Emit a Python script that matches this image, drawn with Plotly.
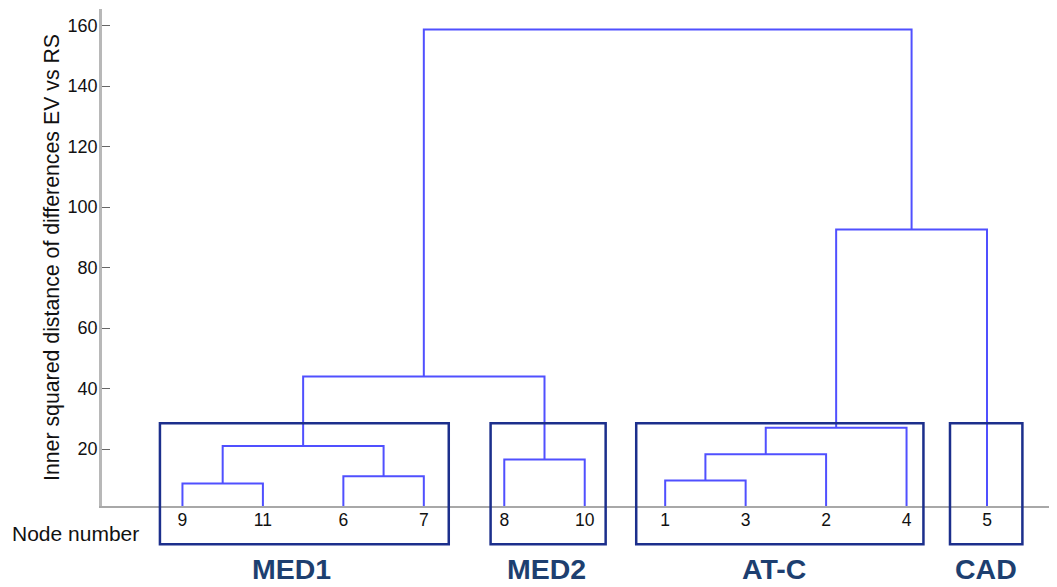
import plotly.graph_objects as go

# ---- data ----
leaf_labels = ["9", "11", "6", "7", "8", "10", "1", "3", "2", "4", "5"]
# merges: (left node, right node, height); nodes are leaf labels or earlier merge ids "m0".."m9"
merge_left = ["9", "6", "m0", "8", "m2", "1", "m5", "m6", "m7", "m4"]
merge_right = ["11", "7", "m1", "10", "m3", "3", "2", "4", "5", "m8"]
merge_height = [8.6, 11.0, 21.0, 16.5, 44.0, 9.6, 18.3, 27.0, 92.6, 158.7]

group_names = ["MED1", "MED2", "AT-C", "CAD"]
group_first_leaf = ["9", "8", "1", "5"]
group_last_leaf = ["7", "10", "4", "5"]
group_pad_left = [0.28, 0.17, 0.36, 0.46]
group_pad_right = [0.31, 0.26, 0.21, 0.44]
group_label_x = [2.36, 5.52, 8.35, 10.99]

y_ticks = [20, 40, 60, 80, 100, 120, 140, 160]

# ---- build dendrogram coordinates ----
pos = {lab: i + 1 for i, lab in enumerate(leaf_labels)}
hgt = {lab: 0.0 for lab in leaf_labels}
xs, ys = [], []
for k, (a, b, h) in enumerate(zip(merge_left, merge_right, merge_height)):
    xa, xb = pos[a], pos[b]
    xs += [xa, xa, xb, xb, None]
    ys += [hgt[a], h, h, hgt[b], None]
    pos[f"m{k}"] = (xa + xb) / 2
    hgt[f"m{k}"] = h

FONT = "Liberation Sans, Arial, sans-serif"
fig = go.Figure()
fig.add_trace(go.Scatter(
    x=xs, y=ys, mode="lines",
    line=dict(color="rgb(80,80,255)", width=2),
    hoverinfo="skip", showlegend=False,
))

# boxes around groups
box_top, box_bottom = 0.1664, -0.0771
for name, f, l, pl, pr in zip(group_names, group_first_leaf, group_last_leaf,
                              group_pad_left, group_pad_right):
    fig.add_shape(type="rect", xref="x", yref="paper",
                  x0=pos[f] - pl, x1=pos[l] + pr, y0=box_bottom, y1=box_top,
                  line=dict(color="#1c2f8c", width=2.5), fillcolor="rgba(0,0,0,0)")

for name, gx in zip(group_names, group_label_x):
    fig.add_annotation(x=gx, xref="x", y=-0.127, yref="paper", text=f"<b>{name}</b>",
                       showarrow=False, xanchor="center", yanchor="middle",
                       font=dict(family=FONT, size=28.5, color="#1d3f70"))

fig.add_annotation(x=-0.0963, xref="paper", y=-0.0563, yref="paper", text="Node number",
                   showarrow=False, xanchor="left", yanchor="middle",
                   font=dict(family=FONT, size=21, color="#111"))

fig.update_layout(
    width=1049, height=579, autosize=False,
    margin=dict(l=94, r=0, t=1, b=81),
    plot_bgcolor="white", paper_bgcolor="white",
    font=dict(family=FONT, color="#111"),
    xaxis=dict(range=[0, 11.87], showgrid=False, zeroline=False,
               showline=True, linecolor="#a8a8a8", linewidth=1.5,
               tickmode="array", tickvals=list(range(1, 12)), ticktext=leaf_labels,
               ticks="", tickfont=dict(size=17.5, color="#111"), ticklabelstandoff=-3),
    yaxis=dict(range=[1.16, 165.5], showgrid=False, zeroline=False,
               showline=True, linecolor="#b8b8b8", linewidth=2.5,
               ticks="inside", ticklen=8, tickcolor="#666", tickwidth=1,
               tickvals=y_ticks, tickfont=dict(size=18, color="#111"),
               ticklabelstandoff=-2,
               title=dict(text="Inner squared distance of differences EV vs RS",
                          font=dict(size=21.3, color="#111"), standoff=3)),
)

fig.write_html("out.html")
